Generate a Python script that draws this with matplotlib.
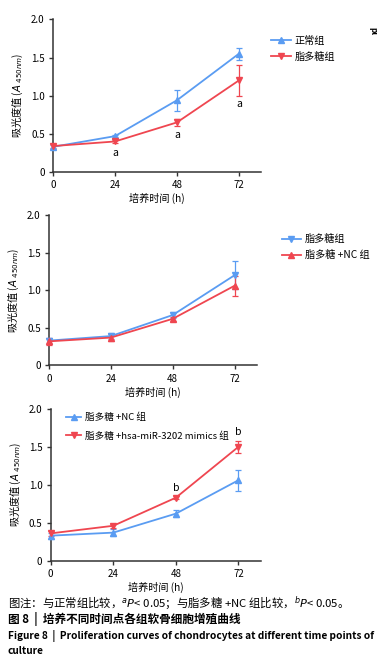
import matplotlib.pyplot as plt
from matplotlib.lines import Line2D
import numpy as np

plt.rcParams['font.family'] = ['Noto Sans CJK SC', 'DejaVu Sans']
plt.rcParams['axes.unicode_minus'] = False

BLUE = '#5a9cf2'
RED = '#ef4650'

hours = [0, 24, 48, 72]

# panel 1
normal_mean = [0.33, 0.47, 0.94, 1.55]
normal_err = [0.03, 0.01, 0.14, 0.08]
lps_mean = [0.34, 0.40, 0.65, 1.20]
lps_err = [0.03, 0.02, 0.05, 0.20]

# panel 2
lps2_mean = [0.33, 0.39, 0.67, 1.20]
lps2_err = [0.04, 0.04, 0.04, 0.19]
nc_mean = [0.32, 0.37, 0.62, 1.06]
nc_err = [0.05, 0.05, 0.03, 0.13]

# panel 3
nc3_mean = [0.33, 0.37, 0.62, 1.06]
nc3_err = [0.04, 0.05, 0.05, 0.14]
mimic_mean = [0.36, 0.46, 0.83, 1.50]
mimic_err = [0.03, 0.03, 0.02, 0.08]

ylabel = '吸光度值 ($A$ $_{450nm}$)'
xlabel = '培养时间 (h)'


def style_axes(ax):
    ax.set_xlim(0, 80.6)
    ax.set_ylim(0, 2.0)
    ax.set_xticks(hours)
    ax.set_yticks([0, 0.5, 1.0, 1.5, 2.0])
    ax.set_yticklabels(['0', '0.5', '1.0', '1.5', '2.0'])
    for s in ['top', 'right']:
        ax.spines[s].set_visible(False)
    for s in ['left', 'bottom']:
        ax.spines[s].set_linewidth(1.1)
        ax.spines[s].set_color('#333333')
    ax.tick_params(direction='out', length=3, width=1, labelsize=7,
                   colors='#333333', labelcolor='black', pad=3)
    ax.set_xlabel(xlabel, fontsize=7.3, labelpad=2)
    ax.set_ylabel(ylabel, fontsize=7.3, labelpad=4)


def draw(ax, mean, err, color, marker):
    ax.errorbar(hours, mean, yerr=err, color=color, marker=marker,
                markersize=4, linewidth=1.3, elinewidth=0.9, capsize=2.5,
                capthick=0.9, clip_on=False, zorder=3)


def legend(ax, items, fontsize=7.3, handlelength=1.9, labelspacing=0.6, **kw):
    handles = [Line2D([], [], color=c, marker=m, markersize=4, linewidth=1.3)
               for c, m, _ in items]
    ax.legend(handles, [t for _, _, t in items], frameon=False, fontsize=fontsize,
              handlelength=handlelength, handletextpad=0.4,
              labelspacing=labelspacing, borderaxespad=0, **kw)


fig = plt.figure(figsize=(3.77, 6.68), dpi=100)

ax1 = fig.add_axes([0.1406, 0.7425, 0.552, 0.2285])
draw(ax1, normal_mean, normal_err, BLUE, '^')
draw(ax1, lps_mean, lps_err, RED, 'v')
style_axes(ax1)
for x, y in [(24, 0.25), (48, 0.485), (72, 0.885)]:
    ax1.text(x, y, 'a', ha='center', va='center', fontsize=7.5)
legend(ax1, [(BLUE, '^', '正常组'), (RED, 'v', '脂多糖组')],
       loc='upper left', bbox_to_anchor=(1.03, 0.92))

ax2 = fig.add_axes([0.130, 0.453, 0.551, 0.225])
draw(ax2, lps2_mean, lps2_err, BLUE, 'v')
draw(ax2, nc_mean, nc_err, RED, '^')
style_axes(ax2)
legend(ax2, [(BLUE, 'v', '脂多糖组'), (RED, '^', '脂多糖 +NC 组')],
       loc='upper left', bbox_to_anchor=(1.10, 0.90))

ax3 = fig.add_axes([0.1345, 0.1606, 0.5575, 0.2274])
draw(ax3, nc3_mean, nc3_err, BLUE, '^')
draw(ax3, mimic_mean, mimic_err, RED, 'v')
style_axes(ax3)
for x, y in [(48, 0.955), (72, 1.69)]:
    ax3.text(x, y, 'b', ha='center', va='center', fontsize=7.5)
legend(ax3, [(BLUE, '^', '脂多糖 +NC 组'),
             (RED, 'v', '脂多糖 +hsa-miR-3202 mimics 组')],
       fontsize=6.9, handlelength=1.6, labelspacing=0.95,
       loc='upper left', bbox_to_anchor=(0.055, 1.0))

# caption
fig.text(8 / 377, 1 - 603 / 668,
         '图注：与正常组比较，$^{a}$$P$< 0.05；与脂多糖 +NC 组比较，$^{b}$$P$< 0.05。',
         fontsize=8.2, va='center', ha='left')
fig.text(8 / 377, 1 - 619 / 668, '图 8  |  培养不同时间点各组软骨细胞增殖曲线',
         fontsize=8.4, va='center', ha='left', fontweight='bold')
fig.text(8 / 377, 1 - 636 / 668,
         'Figure 8  |  Proliferation curves of chondrocytes at different time points of',
         fontsize=7.3, va='center', ha='left', fontweight='bold')
fig.text(8 / 377, 1 - 651 / 668, 'culture',
         fontsize=7.3, va='center', ha='left', fontweight='bold')

fig.text(373 / 377, 1 - 31 / 668, 'pl', fontsize=6, rotation=270,
         va='center', ha='center', fontweight='bold')

fig.savefig('out.png', dpi=100)
